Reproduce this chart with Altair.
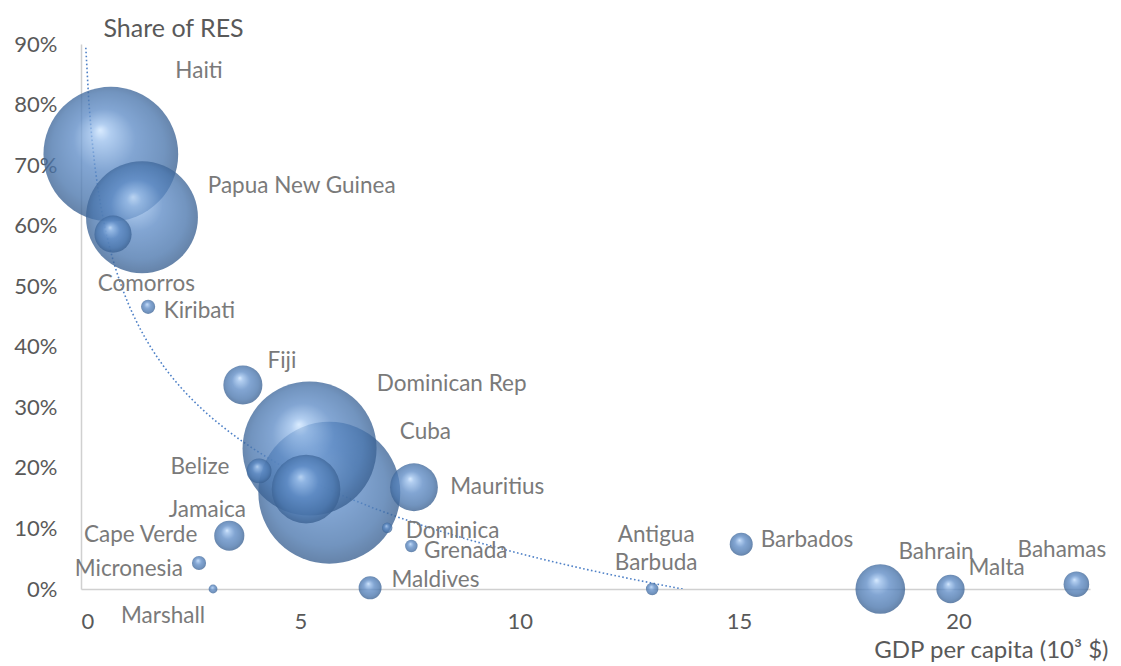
import altair as alt
import pandas as pd

countries = ["Haiti", "Papua New Guinea", "Comorros", "Kiribati", "Fiji",
             "Dominican Rep", "Cuba", "Jamaica", "Belize", "Mauritius",
             "Dominica", "Grenada", "Maldives", "Cape Verde", "Micronesia",
             "Marshall", "Antigua\nBarbuda", "Barbados", "Bahrain", "Malta", "Bahamas"]
gdp = [0.68, 1.39, 0.73, 1.53, 3.69, 5.21, 5.66, 5.13, 4.06, 7.59,
       6.98, 7.53, 6.59, 3.38, 2.69, 3.01, 13.02, 15.05, 18.22, 19.82, 22.69]
res = [0.718, 0.614, 0.586, 0.466, 0.337, 0.232, 0.159, 0.165, 0.195, 0.168,
       0.101, 0.071, 0.002, 0.088, 0.043, 0.0, 0.0, 0.074, 0.0, 0.0, 0.008]
pop = [10.0, 6.9, 0.76, 0.11, 0.84, 9.9, 11.1, 2.6, 0.34, 1.26,
       0.06, 0.085, 0.29, 0.5, 0.11, 0.043, 0.085, 0.29, 1.36, 0.44, 0.36]
label_x = [2.69, 5.03, 1.49, 2.70, 4.58, 8.45, 7.85, 2.88, 2.71, 9.49,
           8.47, 8.77, 8.08, 1.36, 1.09, 1.87, 13.11, 16.55, 19.49, 20.87, 22.36]
label_y = [0.855, 0.665, 0.504, 0.459, 0.376, 0.339, 0.259, 0.130, 0.201, 0.168,
           0.096, 0.063, 0.015, 0.089, 0.033, -0.045, 0.089, 0.081, 0.061, 0.035, 0.065]
x_ticks = [0, 5, 10, 15, 20]
y_ticks = [0, 0.1, 0.2, 0.3, 0.4, 0.5, 0.6, 0.7, 0.8, 0.9]

df = pd.DataFrame({"country": countries, "gdp": gdp, "res": res, "pop": pop,
                   "lx": label_x, "ly": label_y})

FONT = "Lato"
xscale = alt.Scale(domain=[0, 23], nice=False, zero=False)
yscale = alt.Scale(domain=[0, 0.9], nice=False)

gradient = alt.RadialGradient(
    gradient="radial",
    stops=[alt.GradientStop(color="#cfe6ff", offset=0),
           alt.GradientStop(color="#9cc0ec", offset=0.12),
           alt.GradientStop(color="#5f8cc6", offset=0.42),
           alt.GradientStop(color="#4a76ad", offset=0.76),
           alt.GradientStop(color="#345886", offset=1)],
    x1=0.42, y1=0.32, r1=0, x2=0.5, y2=0.5, r2=0.55)

base = alt.Chart(df)

trend = base.transform_regression(
    "gdp", "res", method="log", extent=[0.11, 13.72]
).mark_line(color="#4f81c7", strokeWidth=1.6, strokeDash=[1.6, 2.4], clip=True).encode(
    x=alt.X("gdp:Q", scale=xscale,
            axis=alt.Axis(values=x_ticks, title="GDP per capita (10³ $)",
                          titleAlign="right", titleAnchor="end", titleAngle=0,
                          titleX=1027, titleY=61, titleBaseline="middle",
                          titleFont=FONT, titleFontSize=24, titleFontWeight="normal",
                          titleColor="#595959",
                          labelFont=FONT, labelFontSize=22, labelColor="#595959",
                          labelPadding=22, ticks=False, tickSize=0, grid=False,
                          domainColor="#d0d0d0", domainWidth=1.5)),
    y=alt.Y("res:Q", scale=yscale,
            axis=alt.Axis(values=y_ticks, format=".0%", title="Share of RES",
                          titleAngle=0, titleAlign="left", titleX=22, titleY=-16,
                          titleBaseline="middle", titleFont=FONT, titleFontSize=25,
                          titleFontWeight="normal", titleColor="#595959",
                          labelFont=FONT, labelFontSize=22, labelColor="#595959",
                          labelPadding=24, ticks=False, tickSize=0, grid=False,
                          domainColor="#d0d0d0", domainWidth=1.5)),
)

bubbles = base.mark_circle(fill=gradient, opacity=0.78, strokeWidth=0).encode(
    x=alt.X("gdp:Q", scale=xscale),
    y=alt.Y("res:Q", scale=yscale),
    size=alt.Size("pop:Q", scale=alt.Scale(domain=[0, 12], range=[0, 21775], zero=True),
                  legend=None),
    order=alt.Order("pop:Q", sort="descending"),
)

labels = base.mark_text(font=FONT, fontSize=22.5, color="#7a7a7a", align="center",
                        baseline="middle", lineBreak="\n", lineHeight=28).encode(
    x=alt.X("lx:Q", scale=xscale),
    y=alt.Y("ly:Q", scale=yscale),
    text="country:N",
)

chart = alt.layer(trend, bubbles, labels).properties(
    width=1009, height=545,
    background="white",
    autosize=alt.AutoSizeParams(type="none"),
    padding={"left": 73, "top": 36, "right": 20, "bottom": 76},
).configure_view(strokeWidth=0, stroke="transparent")

chart.save("out.html", embed_options={"renderer": "svg", "actions": False})
